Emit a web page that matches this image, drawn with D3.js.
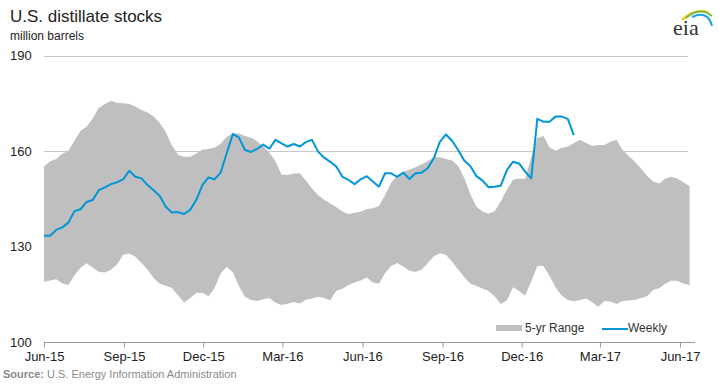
<!DOCTYPE html>
<html>
<head>
<meta charset="utf-8">
<title>U.S. distillate stocks</title>
<script src="https://cdn.jsdelivr.net/npm/d3@7"></script>
<style>
  body { margin: 0; background: #fff; }
  svg { display: block; font-family: "Liberation Sans", Arial, sans-serif; }
  .title { font-size: 17px; fill: #222; }
  .units { font-size: 12px; fill: #222; }
  .ylab, .xlab { font-size: 13px; fill: #222; }
  .legend { font-size: 12px; fill: #333; }
  .source { font-size: 11px; fill: #8a8a8a; }
</style>
</head>
<body>
<div id="chart"></div>
<script>
// weekly stocks, million barrels, one value a week from early June 2015
var weekly = [
  133.4, 133.4, 135.2, 136.0, 137.5, 141.1, 141.7, 144.0, 144.6, 147.7,
  148.6, 149.6, 150.2, 151.1, 153.8, 151.9, 151.4, 149.3, 147.7, 145.9,
  142.5, 140.7, 140.8, 140.2, 141.5, 144.6, 149.3, 151.7, 151.1, 153.2,
  159.3, 165.3, 164.3, 160.3, 159.7, 160.7, 162.0, 160.7, 163.5, 162.4,
  161.4, 162.2, 161.4, 162.8, 163.5, 159.8, 157.9, 156.6, 155.1, 151.9,
  150.9, 149.6, 151.1, 152.1, 150.4, 148.8, 153.0, 153.0, 151.9, 153.2,
  151.2, 153.0, 153.2, 154.6, 157.7, 162.9, 165.2, 163.2, 160.3, 157.0,
  155.3, 152.1, 150.7, 148.6, 148.8, 149.1, 154.0, 156.6, 156.1, 153.5,
  151.4, 170.1, 169.2, 169.2, 170.8, 170.8, 170.1, 165.0
];

// 5-yr range, high and low, same weekly steps, running to June 2017
var rangeHigh = [
  155.1, 156.8, 157.5, 159.1, 160.0, 163.2, 166.4, 167.6, 170.2, 173.5,
  174.8, 175.8, 175.1, 175.0, 174.8, 174.0, 172.9, 172.1, 170.8, 168.8,
  166.0, 161.7, 158.8, 158.2, 158.2, 159.2, 160.4, 160.6, 161.0, 162.3,
  164.5, 165.6, 165.5, 164.7, 164.2, 163.1, 161.4, 159.5, 156.8, 152.6,
  152.5, 152.9, 153.0, 150.7, 148.2, 146.2, 144.7, 143.5, 142.3, 141.0,
  140.1, 140.6, 140.9, 141.8, 142.0, 142.7, 146.2, 150.0, 152.3, 153.5,
  154.2, 154.9, 155.8, 156.7, 158.0, 158.0, 157.5, 157.0, 155.3, 151.5,
  146.5, 142.5, 141.0, 140.3, 141.1, 144.1, 147.9, 151.0, 151.4, 151.2,
  158.0, 164.1, 164.7, 161.2, 160.1, 161.0, 161.3, 162.4, 163.5, 162.5,
  161.6, 161.9, 161.9, 162.9, 163.5, 160.3, 158.4, 156.7, 154.5, 152.2,
  150.4, 149.8, 151.3, 151.9, 151.4, 150.1, 149.0
];
var rangeLow = [
  118.9, 119.3, 119.7, 118.4, 117.9, 121.0, 123.3, 124.7, 123.4, 122.1,
  121.8, 122.7, 124.4, 127.4, 127.8, 126.8, 124.8, 122.8, 120.1, 118.3,
  117.7, 117.0, 114.7, 112.4, 113.8, 115.4, 115.5, 114.4, 117.0, 121.5,
  123.6, 121.9, 117.6, 114.2, 113.2, 112.9, 113.4, 113.8, 112.3, 111.6,
  112.0, 112.6, 112.1, 113.3, 113.7, 114.2, 113.8, 113.1, 116.1, 116.7,
  117.9, 118.7, 119.3, 120.3, 118.7, 118.3, 121.6, 123.9, 124.8, 123.7,
  122.4, 122.0, 122.8, 124.7, 126.9, 127.9, 127.4, 125.2, 122.8, 120.4,
  118.4, 117.6, 116.8, 116.0, 114.3, 111.9, 113.0, 117.2, 116.0, 114.6,
  119.0, 123.9, 123.9, 120.8, 117.1, 114.6, 113.2, 112.8, 113.2, 113.7,
  112.5, 111.1, 112.8, 112.7, 111.9, 112.9, 113.0, 113.2, 113.8, 114.4,
  116.3, 116.9, 118.3, 119.3, 119.2, 118.4, 117.8
];

var tickLabels = ["Jun-15", "Sep-15", "Dec-15", "Mar-16", "Jun-16", "Sep-16", "Dec-16", "Mar-17", "Jun-17"];
var yTicks = [100, 130, 160, 190];

var width = 719, height = 384;
var start = Date.UTC(2015, 5, 1);
var parseLab = d3.utcParse("%b-%y");
var tickDates = tickLabels.map(function (s) { return parseLab(s); });

var x = d3.scaleUtc()
    .domain([tickDates[0], tickDates[tickDates.length - 1]])
    .range([44, 680]);
var y = d3.scaleLinear().domain([100, 190]).range([342, 55.5]);

function weekDate(i) { return d3.utcDay.offset(new Date(start), 7 * i); }

var rangeData = rangeHigh.map(function (h, i) { return {date: weekDate(i), hi: h, lo: rangeLow[i]}; });
var weeklyData = weekly.map(function (v, i) { return {date: weekDate(i), v: v}; });

var svg = d3.select("#chart").append("svg")
    .attr("width", width).attr("height", height);

// titles
svg.append("text").attr("class", "title").attr("x", 10).attr("y", 22).text("U.S. distillate stocks");
svg.append("text").attr("class", "units").attr("x", 10).attr("y", 40).text("million barrels");

// gridlines
svg.append("g").selectAll("line")
  .data(yTicks.filter(function (d) { return d > 100; }))
  .enter().append("line")
    .attr("x1", 44).attr("x2", 688)
    .attr("y1", function (d) { return Math.round(y(d)) + 0.5; })
    .attr("y2", function (d) { return Math.round(y(d)) + 0.5; })
    .attr("stroke", "#c8c8c8").attr("stroke-width", 1);

// y labels
svg.append("g").selectAll("text")
  .data(yTicks)
  .enter().append("text")
    .attr("class", "ylab")
    .attr("x", 10)
    .attr("y", function (d) { return y(d); })
    .attr("dy", "0.35em")
    .text(function (d) { return d; });

// 5-yr range band
var area = d3.area()
    .x(function (d) { return x(d.date); })
    .y0(function (d) { return y(d.lo); })
    .y1(function (d) { return y(d.hi); });
svg.append("path").datum(rangeData)
    .attr("d", area)
    .attr("fill", "#bfbfbf");

// weekly line
var line = d3.line()
    .x(function (d) { return x(d.date); })
    .y(function (d) { return y(d.v); });
svg.append("path").datum(weeklyData)
    .attr("d", line)
    .attr("fill", "none")
    .attr("stroke", "#0096d7")
    .attr("stroke-width", 2)
    .attr("stroke-linejoin", "round");

// x axis
var xAxis = d3.axisBottom(x)
    .tickValues(tickDates)
    .tickFormat(function (d, i) { return tickLabels[i]; })
    .tickSize(5)
    .tickSizeOuter(0);
var gx = svg.append("g").attr("transform", "translate(0," + 342.5 + ")").call(xAxis);
gx.select(".domain").attr("d", "M44,0H695").attr("stroke", "#9a9a9a");
gx.selectAll(".tick line").attr("stroke", "#9a9a9a");
gx.selectAll(".tick text").attr("class", "xlab").attr("y", 9).attr("dy", "0.71em")
    .style("font-family", "Liberation Sans, Arial, sans-serif").style("font-size", "13px").attr("fill", "#222");

// legend
var lg = svg.append("g");
lg.append("rect").attr("x", 496).attr("y", 325).attr("width", 26).attr("height", 6).attr("fill", "#bfbfbf");
lg.append("text").attr("class", "legend").attr("x", 525).attr("y", 332).text("5-yr Range");
lg.append("line").attr("x1", 602).attr("x2", 628).attr("y1", 329).attr("y2", 329)
    .attr("stroke", "#0096d7").attr("stroke-width", 2);
lg.append("text").attr("class", "legend").attr("x", 628).attr("y", 332).text("Weekly");

// source
var src = svg.append("text").attr("class", "source").attr("x", 3).attr("y", 378);
src.append("tspan").attr("font-weight", "bold").text("Source: ");
src.append("tspan").text("U.S. Energy Information Administration");

// eia logo
var logo = svg.append("g").attr("transform", "translate(672,0)");
logo.append("path").attr("d", "M10,20 Q22,8 36,12").attr("fill", "none").attr("stroke", "#f2c500").attr("stroke-width", 2);
logo.append("path").attr("d", "M14,18 Q28,6 40,16").attr("fill", "none").attr("stroke", "#7cbb3f").attr("stroke-width", 2);
logo.append("path").attr("d", "M20,17 Q36,10 40,26").attr("fill", "none").attr("stroke", "#1aa3dd").attr("stroke-width", 2);
logo.append("text").attr("x", 1).attr("y", 35)
    .style("font-family", "Liberation Serif, DejaVu Serif, serif").style("font-size", "22px")
    .attr("fill", "#333").text("eia");
</script>
</body>
</html>
